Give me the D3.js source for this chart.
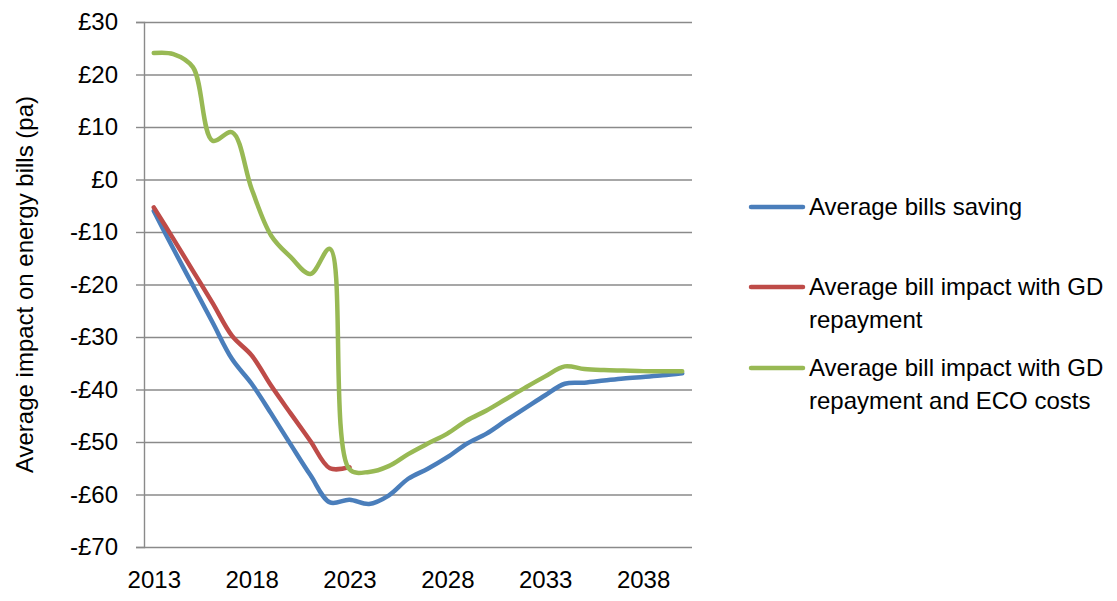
<!DOCTYPE html>
<html>
<head>
<meta charset="utf-8">
<script src="https://cdn.jsdelivr.net/npm/d3@7"></script>
<style>
  html, body { margin: 0; padding: 0; background: #fff; }
  svg { display: block; }
  text { font-family: "Liberation Sans", Arial, sans-serif; fill: #000; }
</style>
</head>
<body>
<svg id="chart" width="1117" height="601"></svg>
<script>
const years = d3.range(2013, 2041);
const xTickLabels = [2013, 2018, 2023, 2028, 2033, 2038];
const yTicks = [-70, -60, -50, -40, -30, -20, -10, 0, 10, 20, 30];

const billsSaving = [-6, -13.2, -20.2, -27.2, -34.2, -38.9, -44.6, -50.5, -56.3, -61.5, -61, -61.8, -60.2, -57, -55.1, -52.9, -50.3, -48.4, -45.9, -43.5, -41.1, -38.9, -38.7, -38.3, -37.9, -37.6, -37.3, -36.9];
const withGD = [-5.3, -11.3, -17.4, -23.5, -29.8, -33.5, -39.3, -44.6, -49.8, -55, -54.8];
const withGDandECO = [24.1, 23.9, 21.4, 7.4, 9, -1.8, -10.7, -14.8, -18, -13.2, -55.2, -55.7, -54.6, -52.3, -50.3, -48.4, -45.9, -44, -41.8, -39.6, -37.5, -35.6, -36.1, -36.3, -36.4, -36.5, -36.5, -36.5];

const seriesNames = ["Average bills saving", "Average bill impact with GD repayment", "Average bill impact with GD repayment and ECO costs"];
const legendLines = [["Average bills saving"], ["Average bill impact with GD", "repayment"], ["Average bill impact with GD", "repayment and ECO costs"]];
const colors = ["#4A7EBB", "#BE4B48", "#98B954"];

(function () {
const svg = d3.select("#chart");
const mLeft = 144, mRight = 692, mTop = 22, mBottom = 547;

const x = d3.scalePoint().domain(years).range([mLeft, mRight]).padding(0.5);
const y = d3.scaleLinear().domain([-70, 30]).range([mBottom, mTop]);

const fmt = v => (v < 0 ? "-£" : "£") + Math.abs(v);

// gridlines
svg.append("g")
  .attr("transform", `translate(${mLeft},0)`)
  .call(d3.axisLeft(y).tickValues(yTicks).tickSize(-(mRight - mLeft)).tickFormat(""))
  .call(g => g.select(".domain").remove())
  .call(g => g.selectAll("line").attr("stroke", "#8a8a8a").attr("stroke-width", 1.4));

// y axis with ticks & labels
svg.append("g")
  .attr("transform", `translate(${mLeft},0)`)
  .call(d3.axisLeft(y).tickValues(yTicks).tickSize(8).tickPadding(18).tickFormat(fmt))
  .call(g => g.select(".domain").attr("stroke", "#8a8a8a").attr("stroke-width", 1.4))
  .call(g => g.selectAll("line").attr("stroke", "#8a8a8a").attr("stroke-width", 1.4))
  .call(g => g.selectAll("text").attr("font-size", 24).attr("font-family", "Liberation Sans, Arial, sans-serif").attr("fill", "#000"));

// x axis labels
svg.append("g")
  .attr("transform", `translate(0,${mBottom})`)
  .call(d3.axisBottom(x).tickValues(xTickLabels).tickSize(0).tickPadding(24).tickFormat(d3.format("d")))
  .call(g => g.select(".domain").remove())
  .call(g => g.selectAll("text").attr("font-size", 24).attr("font-family", "Liberation Sans, Arial, sans-serif").attr("fill", "#000"));

// y axis title
svg.append("text")
  .attr("transform", `translate(25,${(mTop + mBottom) / 2}) rotate(-90)`)
  .attr("text-anchor", "middle")
  .attr("dy", "0.35em")
  .attr("font-size", 24)
  .text("Average impact on energy bills (pa)");

const line = d3.line()
  .x((d, i) => x(years[i]))
  .y(d => y(d))
  .curve(d3.curveCatmullRom.alpha(0.5));

const data = [billsSaving, withGD, withGDandECO];
data.forEach((vals, i) => {
  svg.append("path")
    .datum(vals)
    .attr("fill", "none")
    .attr("stroke", colors[i])
    .attr("stroke-width", 4.5)
    .attr("stroke-linejoin", "round")
    .attr("stroke-linecap", "round")
    .attr("d", line);
});

// legend
const legendY = [207, 287, 368];
legendLines.forEach((lines, i) => {
  const g = svg.append("g");
  g.append("line")
    .attr("x1", 751).attr("x2", 803)
    .attr("y1", legendY[i]).attr("y2", legendY[i])
    .attr("stroke", colors[i]).attr("stroke-width", 4.5).attr("stroke-linecap", "round");
  lines.forEach((t, j) => {
    g.append("text")
      .attr("x", 809)
      .attr("y", legendY[i] + j * 32.5)
      .attr("dy", "0.35em")
      .attr("font-size", 24)
      .text(t);
  });
});
})();
</script>
</body>
</html>
